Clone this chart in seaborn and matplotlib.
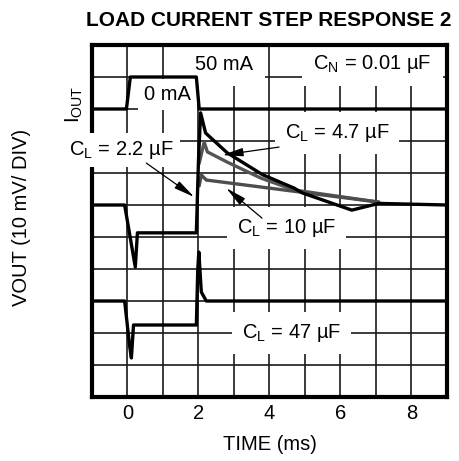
#!/usr/bin/env python3
"""Scope-style load current step response plot (seaborn/matplotlib)."""

import matplotlib as mpl
import matplotlib.pyplot as plt
import pandas as pd
import seaborn as sns

# time in ms, vertical position in graticule divisions (0 = bottom edge)
IOUT_T = [-1.0, -0.03, 0.08, 1.94, 2.02, 9.0]
IOUT_V = [9.0, 9.0, 10.0, 10.0, 9.0, 9.0]

# upper VOUT group, black trace (C_L = 4.7 uF)
V47_T = [-1.0, -0.08, 0.22, 0.28, 1.94, 2.0, 2.06, 2.2, 2.81, 3.8, 4.69, 4.92, 5.67, 6.32, 7.08, 9.0]
V47_V = [6.0, 6.0, 4.06, 5.13, 5.13, 7.4, 8.88, 8.25, 7.63, 6.95, 6.53, 6.38, 6.09, 5.84, 6.05, 6.0]

# upper VOUT group, dark grey trace
V22_T = [2.02, 2.16, 2.25, 2.81, 3.76, 4.69, 7.08]
V22_V = [7.3, 7.97, 7.66, 7.34, 6.84, 6.47, 6.09]

# upper VOUT group, grey trace (C_L = 10 uF)
V10_T = [2.02, 2.08, 2.22, 7.08]
V10_V = [6.6, 6.94, 6.78, 6.09]

# lower VOUT trace (C_L = 47 uF)
V470_T = [-1.0, -0.08, 0.06, 0.11, 0.17, 1.94, 1.98, 2.01, 2.08, 2.22, 9.0]
V470_V = [3.0, 3.0, 1.6, 1.22, 2.25, 2.25, 4.0, 4.53, 3.28, 3.0, 3.0]

X_TICKS = list(range(-1, 10))
X_LABELS = ["" if t % 2 else str(t) for t in X_TICKS]
Y_TICKS = list(range(0, 12))

INK = "black"
FS = 14.5


def label(ax, x, y, s, box=0.4, **kw):
    bbox = dict(boxstyle=f"square,pad={box}", fc="white", ec="none") if box else None
    ax.text(x, y, s, ha="center", va="center", fontsize=FS, color=INK,
            bbox=bbox, zorder=4, clip_on=False, **kw)


def arrow(ax, start, tip):
    ax.annotate("", xy=tip, xytext=start, zorder=5,
                arrowprops=dict(arrowstyle="-|>,head_length=0.9,head_width=0.18",
                                mutation_scale=14, lw=0.9, color=INK,
                                shrinkA=0, shrinkB=0))


def main():
    sns.set_style("white")
    mpl.rcParams.update({
        "font.family": ["Liberation Sans", "DejaVu Sans"],
        "axes.axisbelow": True,
        "text.color": INK,
        "axes.labelcolor": INK,
        "xtick.color": INK,
        "ytick.color": INK,
    })

    fig = plt.figure(figsize=(4.59, 4.61), dpi=100)
    ax = fig.add_axes([0.2004, 0.1388, 0.7734, 0.7636])

    traces = [
        ("iout", IOUT_T, IOUT_V, "black"),
        ("c22", V22_T, V22_V, "#555555"),
        ("c10", V10_T, V10_V, "#4d4d4d"),
        ("c47", V47_T, V47_V, "black"),
        ("c470", V470_T, V470_V, "black"),
    ]
    for name, t, v, color in traces:
        df = pd.DataFrame({"time": t, "div": v})
        sns.lineplot(data=df, x="time", y="div", color=color, linewidth=2.4,
                     estimator=None, sort=False, ax=ax, zorder=4.5)

    ax.set_xlim(-1, 9)
    ax.set_ylim(0, 11)
    ax.set_xticks(X_TICKS, X_LABELS)
    ax.set_yticks(Y_TICKS, [])
    ax.tick_params(length=0, labelsize=FS, pad=5, labelcolor=INK)
    ax.grid(True, color="#1a1a1a", linewidth=1.2)
    for sp in ax.spines.values():
        sp.set_linewidth(3.0)
        sp.set_color(INK)
    # keep the top and right frame above the label boxes
    ax.spines["top"].set_zorder(6)
    ax.spines["right"].set_zorder(6)
    ax.set_xlabel("TIME (ms)", fontsize=FS, labelpad=9, color=INK)
    ax.set_ylabel("")

    # labels on the graticule
    label(ax, 2.72, 10.4, "50 mA", box=0.6)
    label(ax, 6.9, 10.4, r"C$_\mathregular{N}$ = 0.01 µF", box=0.55)
    label(ax, 1.12, 9.45, "0 mA", box=0.3)
    label(ax, -0.17, 7.72, r"C$_\mathregular{L}$ = 2.2 µF", box=0.3)
    label(ax, 5.9, 8.25, r"C$_\mathregular{L}$ = 4.7 µF", box=0.5)
    label(ax, 4.49, 5.28, r"C$_\mathregular{L}$ = 10 µF", box=0.5)
    label(ax, 4.61, 2.0, r"C$_\mathregular{L}$ = 47 µF", box=0.5)
    label(ax, -1.5, 9.15, r"I$_\mathregular{OUT}$", box=0, rotation=90)

    arrow(ax, (4.27, 7.81), (2.67, 7.56))
    arrow(ax, (0.53, 7.31), (1.88, 6.25))
    arrow(ax, (3.79, 5.59), (2.78, 6.53))

    fig.text(269 / 459, 1 - 20.5 / 461, "LOAD CURRENT STEP RESPONSE 2",
             ha="center", va="center", fontsize=15, fontweight="bold", color=INK)
    fig.text(22 / 459, 1 - 217 / 461, "VOUT (10 mV/ DIV)", rotation=90,
             ha="center", va="center", fontsize=FS, color=INK)

    fig.savefig("out.png", dpi=100)
    plt.close(fig)


if __name__ == "__main__":
    main()
